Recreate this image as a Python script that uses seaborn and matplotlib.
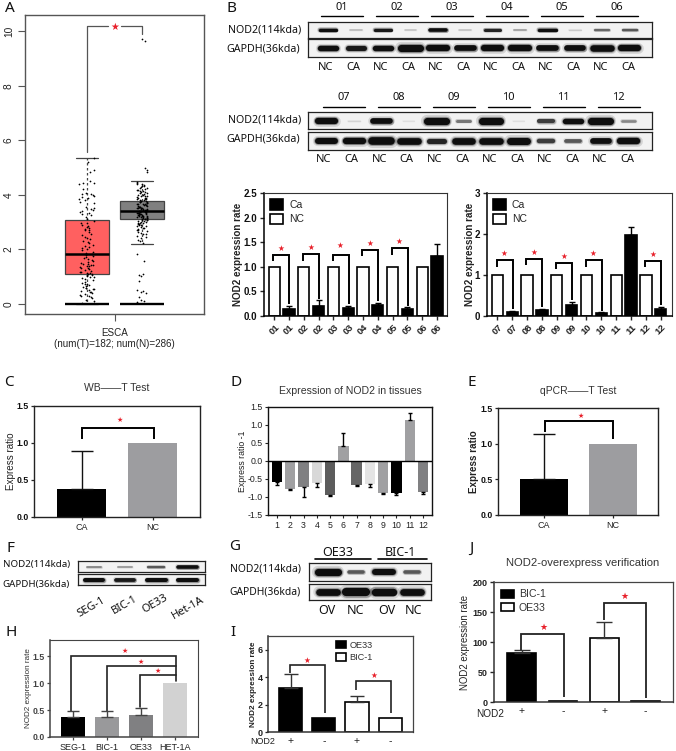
import numpy as np
import pandas as pd
import matplotlib
matplotlib.use("Agg")
import matplotlib.pyplot as plt
from matplotlib.patches import Patch
import seaborn as sns

# ====== Data ======
# A: five-number summaries and the visible points
esca_groups = ["T", "N"]
esca_t_box = [0.0, 1.1, 1.83, 3.07, 5.33]
esca_n_box = [2.2, 3.12, 3.42, 3.77, 4.5]
esca_t_points = [
    5.33, 5.2, 4.9, 4.85, 4.5, 4.45, 4.42, 4.4, 4.2, 4.06, 4.04, 4.02, 4.0, 3.97, 3.93, 3.9, 3.85, 3.82,
    3.75, 3.7, 3.55, 3.5, 3.47, 3.44, 3.4, 3.37, 3.33, 3.3, 3.26, 3.2, 3.1, 3.03, 2.98, 2.95, 2.9, 2.87,
    2.82, 2.78, 2.75, 2.72, 2.7, 2.62, 2.55, 2.52, 2.47, 2.43, 2.38, 2.3, 2.26, 2.22, 2.17, 2.13, 2.1,
    2.05, 2.0, 1.96, 1.9, 1.87, 1.83, 1.8, 1.76, 1.72, 1.68, 1.63, 1.6, 1.56, 1.53, 1.5, 1.48, 1.46,
    1.44, 1.42, 1.4, 1.38, 1.36, 1.33, 1.3, 1.27, 1.24, 1.2, 1.18, 1.16, 1.14, 1.12, 1.1, 1.09, 1.07,
    1.05, 1.03, 1.0, 0.98, 0.95, 0.9, 0.86, 0.82, 0.78, 0.74, 0.72, 0.68, 0.65, 0.62, 0.6, 0.58, 0.56,
    0.53, 0.5, 0.48, 0.45, 0.42, 0.4, 0.37, 0.33, 0.3, 0.28, 0.25, 0.2, 0.16, 0.12, 0.05, 0.03,
]
esca_n_points = [
    9.72, 9.62, 5.0, 4.9, 4.85, 4.47, 4.44, 4.41, 4.38, 4.36, 4.33, 4.31, 4.28, 4.26, 4.24, 4.21, 4.19,
    4.17, 4.15, 4.13, 4.11, 4.09, 4.07, 4.05, 4.03, 4.01, 3.99, 3.97, 3.95, 3.94, 3.92, 3.9, 3.89, 3.87,
    3.86, 3.84, 3.83, 3.81, 3.8, 3.79, 3.77, 3.76, 3.75, 3.73, 3.72, 3.71, 3.7, 3.68, 3.67, 3.66, 3.65,
    3.63, 3.62, 3.61, 3.6, 3.59, 3.57, 3.56, 3.55, 3.54, 3.53, 3.52, 3.51, 3.5, 3.49, 3.48, 3.47, 3.46,
    3.45, 3.44, 3.43, 3.42, 3.41, 3.4, 3.39, 3.38, 3.37, 3.36, 3.35, 3.34, 3.33, 3.32, 3.31, 3.3, 3.29,
    3.28, 3.27, 3.26, 3.25, 3.24, 3.23, 3.22, 3.21, 3.2, 3.19, 3.18, 3.17, 3.16, 3.15, 3.14, 3.13, 3.12,
    3.11, 3.1, 3.08, 3.07, 3.06, 3.04, 3.03, 3.01, 3.0, 2.98, 2.97, 2.95, 2.93, 2.92, 2.9, 2.88, 2.86,
    2.84, 2.82, 2.8, 2.78, 2.75, 2.72, 2.7, 2.67, 2.64, 2.6, 2.57, 2.55, 2.5, 2.46, 2.4, 2.35, 2.3, 2.24,
    1.83, 1.57, 1.08, 1.05, 1.03, 0.85, 0.5, 0.48, 0.42, 0.4, 0.27, 0.15, 0.12, 0.08,
]

# B: blot band strengths (0-1) per lane
lane_labels = ["NC", "CA"] * 6
b1_groups = ["01", "02", "03", "04", "05", "06"]
b2_groups = ["07", "08", "09", "10", "11", "12"]
b1_nod2 = [0.7, 0.12, 0.65, 0.1, 0.75, 0.1, 0.6, 0.18, 0.7, 0.08, 0.35, 0.4]
b1_gapdh = [0.7, 0.65, 0.7, 1.0, 0.85, 0.75, 0.85, 0.85, 0.75, 0.75, 0.9, 0.85]
b2_nod2 = [0.85, 0.05, 0.75, 0.03, 1.0, 0.3, 1.0, 0.03, 0.5, 0.7, 1.0, 0.25]
b2_gapdh = [0.75, 0.8, 1.0, 0.85, 0.6, 0.85, 0.85, 0.9, 0.5, 0.4, 0.7, 0.8]

# B: bars
b1_labels = ["01", "01", "02", "02", "03", "03", "04", "04", "05", "05", "06", "06"]
b1_values = [1, 0.15, 1, 0.2, 1, 0.17, 1, 0.23, 1, 0.15, 1, 1.22]
b1_tops = [1, 0.21, 1, 0.32, 1, 0.2, 1, 0.27, 1, 0.18, 1, 1.47]
b1_brackets = [1.25, 1.26, 1.25, 1.35, 1.38]
b1_legs = [0.24, 0.35, 0.24, 0.3, 0.2]
b2_labels = ["07", "07", "08", "08", "09", "09", "10", "10", "11", "11", "12", "12"]
b2_values = [1, 0.1, 1, 0.15, 1, 0.27, 1, 0.08, 1, 1.97, 1, 0.18]
b2_tops = [1, 0.12, 1, 0.18, 1, 0.35, 1, 0.1, 1, 2.16, 1, 0.23]
b2_brackets = [1.37, 1.4, 1.3, 1.37, 1.35]
b2_legs = [0.16, 0.21, 0.38, 0.13, 0.26]

# C, E
ct_labels = ["CA", "NC"]
c_values = [0.38, 1.0]
c_tops = [0.89, 1.0]
e_values = [0.51, 1.0]
e_tops = [1.13, 1.0]

# D
d_labels = [str(i) for i in range(1, 13)]
d_values = [-0.58, -0.79, -0.73, -0.61, -0.95, 0.42, -0.67, -0.65, -0.9, -0.89, 1.13, -0.85]
d_tops = [-0.66, -0.81, -1.0, -0.71, -0.96, 0.77, -0.69, -0.73, -0.92, -0.94, 1.33, -0.91]
d_colors = ["#000000", "#a0a0a2", "#808082", "#d8d8d8", "#5c5c5c", "#a0a0a2",
            "#666666", "#e4e4e4", "#a0a0a2", "#000000", "#a0a0a2", "#808082"]

# F, G blots
f_lines = ["SEG-1", "BIC-1", "OE33", "Het-1A"]
f_nod2 = [0.25, 0.2, 0.4, 0.8]
f_gapdh = [0.7, 0.65, 0.7, 0.7]
g_lanes = ["OV", "NC", "OV", "NC"]
g_nod2 = [1.0, 0.4, 0.8, 0.4]
g_gapdh = [0.8, 1.0, 0.9, 0.8]

# H
h_labels = ["SEG-1", "BIC-1", "OE33", "HET-1A"]
h_values = [0.37, 0.38, 0.40, 1.0]
h_tops = [0.48, 0.48, 0.54, 1.0]
h_colors = ["#000000", "#99999b", "#808082", "#d2d2d2"]

# I, J
nod2_signs = ["+", "-", "+", "-"]
i_values = [3.2, 1.0, 2.2, 1.0]
i_tops = [4.25, 1.0, 2.65, 1.0]
j_values = [82, 1.5, 106, 1.5]
j_tops = [87, 1.5, 133, 1.5]

# ====== Setup ======
W, H = 676, 751
sns.set_style("ticks")
plt.rcParams["font.family"] = ["Liberation Sans", "DejaVu Sans"]
fig = plt.figure(figsize=(W / 100, H / 100), dpi=100, facecolor="white")
RED = "#e8202a"


def px_axes(l, t, r, b):
    return fig.add_axes([l / W, 1 - b / H, (r - l) / W, (b - t) / H])


def spines(ax, lw=1.0, color="black", frame_lw=None, frame_color=None):
    for s in ["left", "bottom"]:
        ax.spines[s].set_linewidth(lw)
        ax.spines[s].set_color(color)
    for s in ["top", "right"]:
        ax.spines[s].set_linewidth(frame_lw if frame_lw else lw)
        ax.spines[s].set_color(frame_color if frame_color else color)


def bars(ax, values, tops, colors, width, edge=None, lw=0, ecolor="black", cap=2.0, elw=1.0):
    idx = [str(i) for i in range(len(values))]
    sns.barplot(x=idx, y=values, hue=idx, palette=dict(zip(idx, colors)), dodge=False, legend=False,
                width=width, saturation=1, errorbar=None, edgecolor=edge, linewidth=lw, ax=ax)
    for i, (v, t) in enumerate(zip(values, tops)):
        if t != v:
            low, up = (v - t, 0) if t < v else (0, t - v)
            ax.errorbar(i, v, yerr=[[low], [up]], fmt="none", ecolor=ecolor, elinewidth=elw,
                        capsize=cap, capthick=elw, zorder=4)


def bracket(ax, x0, x1, top, y0, y1, lw=1.5, color="black"):
    ax.plot([x0, x0, x1, x1], [y0, top, top, y1], color=color, lw=lw, solid_joinstyle="miter",
            solid_capstyle="butt", zorder=5)


def star(ax, x, y, size=5.5):
    ax.text(x, y, "★", color=RED, fontsize=size, ha="center", va="center", family="DejaVu Sans", zorder=6)


def blot(l, t, r, b, first, step, strengths, band_px):
    ax = px_axes(l, t, r, b)
    ax.set_facecolor("#f2f2f2")
    ax.set_xlim((l - first) / step, (r - first) / step)
    ax.set_ylim(0, 1)
    ax.set_xticks([])
    ax.set_yticks([])
    for s in ax.spines.values():
        s.set_linewidth(0.9)
        s.set_color("#222222")
    for i, s in enumerate(strengths):
        lw = (1.2 + band_px * s) / 1.39
        half = 0.2 + 0.14 * s
        for mult, a in [(1.7, 0.12), (1.3, 0.3), (1.0, 0.9)]:
            ax.plot([i - half, i + half], [0.5, 0.5], color="black", lw=lw * mult,
                    alpha=a * min(1, 0.02 + 1.4 * s), solid_capstyle="round")
    return ax


# overlay for the free text in pixel coordinates
over = fig.add_axes([0, 0, 1, 1], zorder=20)
over.set_xlim(0, W)
over.set_ylim(H, 0)
over.axis("off")


def txt(x, y, s, size=7.5, ha="center", weight="normal", family=None, rot=0, color="#111111"):
    over.text(x, y, s, fontsize=size, ha=ha, va="center", fontweight=weight, rotation=rot, color=color,
              family=family if family else ["Liberation Sans", "DejaVu Sans"])


BLOT_FONT = ["Noto Sans", "DejaVu Sans"]
for letter, x, y in [("A", 10, 8), ("B", 231, 8), ("C", 9, 382), ("D", 236, 382), ("E", 472, 382),
                     ("F", 10, 548), ("G", 235, 547), ("H", 11, 633), ("I", 233, 633), ("J", 471, 548)]:
    txt(x, y, letter, size=11, family=BLOT_FONT)

# ====== A ======
ax = px_axes(25, 15, 204, 314)
box_df = pd.DataFrame({"group": ["T"] * 5 + ["N"] * 5, "value": esca_t_box + esca_n_box})
sns.boxplot(data=box_df, x="group", y="value", hue="group", order=esca_groups,
            palette={"T": "#ff6060", "N": "#808080"}, dodge=False, legend=False, width=0.8, whis=np.inf,
            saturation=1, linecolor="#444444", linewidth=0.9, showfliers=False,
            whiskerprops={"linestyle": (0, (2, 2))}, medianprops={"color": "black", "linewidth": 1.8}, ax=ax)
np.random.seed(4)
sns.stripplot(x=["T"] * len(esca_t_points), y=esca_t_points, order=esca_groups, color="black",
              size=1.25, jitter=0.14, ax=ax)
sns.stripplot(x=["N"] * len(esca_n_points), y=esca_n_points, order=esca_groups, color="black",
              size=1.25, jitter=0.1, ax=ax)
ax.hlines([0, 0], [-0.4, 0.6], [0.4, 1.4], color="black", lw=1.7, zorder=5)
ax.set_xlim(-1.127, 2.127)
ax.set_ylim(-0.37, 10.59)
ax.set_xticks([0.5])
ax.set_xticklabels(["ESCA\n(num(T)=182; num(N)=286)"], fontsize=7.1, color="#222222", linespacing=1.15)
ax.set_yticks([0, 2, 4, 6, 8, 10])
ax.set_yticklabels(["0", "2", "4", "6", "8", "10"], rotation=90, va="center", fontsize=7.3, color="#222222")
ax.tick_params(length=5, width=0.8, color="#555555", pad=3)
ax.tick_params(axis="x", pad=5)
ax.set_xlabel("")
ax.set_ylabel("")
spines(ax, 1.0, "#555555")
ax.plot([0, 0, 0.39], [5.57, 10.17, 10.17], color="#555555", lw=0.9)
ax.plot([0.62, 1, 1], [10.17, 10.17, 9.9], color="#555555", lw=0.9)
star(ax, 0.5, 10.17, 7)

# ====== B blots ======
blot(308, 22, 652, 38, 328.3, 27.4, b1_nod2, 3.2)
blot(308, 39, 652, 57, 328.3, 27.4, b1_gapdh, 6)
blot(308, 112, 652, 129, 326.7, 27.4, b2_nod2, 6)
blot(308, 132, 652, 150, 326.7, 27.4, b2_gapdh, 6.5)
for y, names, first in [(8, b1_groups, 342), (98, b2_groups, 344)]:
    for i, name in enumerate(names):
        cx = first + i * 54.9
        txt(cx, y, name, size=8, family=BLOT_FONT)
        over.plot([cx - 21, cx + 21], [y + (8 if y == 8 else 9)] * 2, color="black", lw=1.0)
for i, name in enumerate(lane_labels):
    txt(326 + i * 27.5, 67, name, size=8, family=BLOT_FONT)
    txt(324 + i * 27.6, 159, name, size=8, family=BLOT_FONT)
for y1, y2 in [(30, 49), (120, 139)]:
    txt(301, y1, "NOD2(114kda)", size=7.7, ha="right", family=BLOT_FONT)
    txt(300, y2, "GAPDH(36kda)", size=7.7, ha="right", family=BLOT_FONT)


# ====== B bars ======
def b_panel(box, xlim, ylim, yticks, yticklabels, labels, values, tops, tops_b, legs, star_y, skip_pair, pad):
    ax = px_axes(*box)
    cols = ["white" if i % 2 == 0 else "black" for i in range(12)]
    bars(ax, values, tops, cols, 0.76, edge="black", lw=1.2, cap=2.2, elw=1.0)
    ax.set_xlim(*xlim)
    ax.set_ylim(*ylim)
    ax.set_xticks(range(12))
    ax.set_xticklabels(labels, rotation=45, ha="center", fontsize=6.8, fontweight="bold", color="#222222")
    ax.set_yticks(yticks)
    ax.set_yticklabels(yticklabels, fontsize=7, fontweight="bold", color="#111111")
    ax.tick_params(length=3, width=1, pad=2)
    ax.set_ylabel("NOD2 expression rate", fontsize=7.1, fontweight="bold", labelpad=pad, color="#222222")
    spines(ax, 1.1, "black", 0.8, "#333333")
    pairs = [p for p in range(6) if p != skip_pair]
    for n, p in enumerate(pairs):
        x0, x1 = p * 2 - 0.05, p * 2 + 1.03
        bracket(ax, x0, x1, tops_b[n], tops_b[n] - ylim[1] * 0.055, legs[n], lw=1.4)
        star(ax, p * 2 + 0.45, star_y[n], 5.5)
    ax.legend(handles=[Patch(facecolor="black", edgecolor="black", lw=1.2, label="Ca"),
                       Patch(facecolor="white", edgecolor="black", lw=1.2, label="NC")],
              loc="upper left", frameon=False, fontsize=7.5, handlelength=1.25, handleheight=1.15,
              labelspacing=0.35, handletextpad=0.55, borderaxespad=0.3, borderpad=0.3)
    return ax


b_panel((264, 193, 447, 316), (-0.69, 11.67), (0, 2.5), [0, 0.5, 1, 1.5, 2, 2.5],
        ["0.0", "0.5", "1.0", "1.5", "2.0", "2.5"], b1_labels, b1_values, b1_tops, b1_brackets, b1_legs,
        [1.37, 1.39, 1.43, 1.47, 1.52], 5, 0)
b_panel((487, 193, 672, 316), (-0.70, 11.76), (0, 3), [0, 1, 2, 3], ["0", "1", "2", "3"],
        b2_labels, b2_values, b2_tops, b2_brackets, b2_legs, [1.53, 1.55, 1.45, 1.53, 1.51], 4, 0)


# ====== C, E ======
def ct_panel(box, xlim, values, tops, top, leg0, leg1, star_y, capsize, ylab_bold, x1, pad):
    ax = px_axes(*box)
    bars(ax, values, tops, ["#000000", "#9d9da0"], 0.69, cap=capsize, elw=1.0, ecolor="#111111")
    ax.set_xlim(*xlim)
    ax.set_ylim(0, 1.5)
    ax.set_xticks([0, 1])
    ax.set_xticklabels(ct_labels, fontsize=6.5, color="#222222")
    ax.set_yticks([0, 0.5, 1, 1.5])
    ax.set_yticklabels(["0.0", "0.5", "1.0", "1.5"], fontsize=6.3, fontweight="bold", color="#111111")
    ax.tick_params(length=2.5, width=0.9, pad=1.5)
    ax.set_ylabel("Express ratio", fontsize=7.1, fontweight="bold" if ylab_bold else "normal",
                  labelpad=pad, color="#222222")
    spines(ax, 1.0, "#222222", 1.0, "#222222")
    bracket(ax, 0.01, x1, top, leg0, leg1, lw=1.4)
    star(ax, 0.53, star_y, 5)


ct_panel((34, 406, 200, 517), (-0.675, 1.67), c_values, c_tops, 1.2, 1.05, 1.05, 1.31, 8.2, False, 1.02, 0)
ct_panel((498, 408, 658, 515), (-0.667, 1.657), e_values, e_tops, 1.32, 1.16, 1.06, 1.39, 8.2, True, 1.0, 1)
txt(117, 388, "WB——T Test", size=7.5, color="#333333")
txt(578, 391, "qPCR——T Test", size=7.5, color="#333333")

# ====== D ======
ax = px_axes(268, 407, 432, 515)
bars(ax, d_values, d_tops, d_colors, 0.78, cap=1.5, elw=1.0)
ax.axhline(0, color="black", lw=1.0, zorder=5)
ax.set_xlim(-0.68, 11.68)
ax.set_ylim(-1.5, 1.5)
ax.set_xticks(range(12))
ax.set_xticklabels(d_labels, fontsize=6.3, color="#222222")
ax.set_yticks([-1.5, -1, -0.5, 0, 0.5, 1, 1.5])
ax.set_yticklabels(["-1.5", "-1.0", "-0.5", "0.0", "0.5", "1.0", "1.5"], fontsize=6.3, color="#222222")
ax.tick_params(length=2.5, width=0.8, pad=1.5)
ax.set_ylabel("Express ratio -1", fontsize=6.3, labelpad=0, color="#222222")
spines(ax, 1.0, "#111111")
txt(350, 391, "Expression of NOD2 in tissues", size=7.6, color="#333333")

# ====== F ======
blot(78, 561, 205, 572, 94, 31.2, f_nod2, 3)
blot(78, 574, 205, 585, 94, 31.2, f_gapdh, 4)
txt(70, 564, "NOD2(114kda)", size=7, ha="right", family=BLOT_FONT)
txt(70, 585, "GAPDH(36kda)", size=7, ha="right", family=BLOT_FONT)
for name, x, y in zip(f_lines, [91, 125, 155, 188], [607, 605, 604, 608]):
    txt(x, y, name, size=8, rot=30, family=BLOT_FONT)

# ====== G ======
blot(309, 563, 431, 581, 328, 28, g_nod2, 6)
blot(309, 584, 431, 600, 328, 28, g_gapdh, 7)
txt(301, 569, "NOD2(114kda)", size=7.4, ha="right", family=BLOT_FONT)
txt(301, 592, "GAPDH(36kda)", size=7.4, ha="right", family=BLOT_FONT)
txt(338, 553, "OE33", size=9, family=BLOT_FONT)
txt(400, 553, "BIC-1", size=9, family=BLOT_FONT)
over.plot([315, 371], [559, 559], color="black", lw=1.2)
over.plot([378, 427], [559, 559], color="black", lw=1.2)
for name, x in zip(g_lanes, [327, 356, 387, 413]):
    txt(x, 611, name, size=9, family=BLOT_FONT)

# ====== H ======
ax = px_axes(50, 640, 198, 737)
bars(ax, h_values, h_tops, h_colors, 0.71, cap=4.5, elw=1.0, ecolor="#444444")
ax.set_xlim(-0.688, 3.68)
ax.set_ylim(0, 1.8)
ax.set_xticks(range(4))
ax.set_xticklabels(h_labels, fontsize=6.5, color="#222222")
ax.set_yticks([0, 0.5, 1, 1.5])
ax.set_yticklabels(["0.0", "0.5", "1.0", "1.5"], fontsize=6.3, fontweight="bold", color="#444444")
ax.tick_params(length=2.5, width=0.9, color="#444444", pad=1.5)
ax.set_ylabel("NOD2 expression rate", fontsize=5.9, labelpad=0, color="#333333")
spines(ax, 1.1, "#444444", 0.8, "#444444")
ax.plot([-0.06, -0.06, 3.03, 3.03], [0.48, 1.5, 1.5, 1.03], color="#222222", lw=1.2, solid_joinstyle="miter")
ax.plot([1.0, 1.0, 3.03], [0.49, 1.31, 1.31], color="#222222", lw=1.2, solid_joinstyle="miter")
ax.plot([1.98, 1.98, 3.03], [0.55, 1.15, 1.15], color="#222222", lw=1.2, solid_joinstyle="miter")
star(ax, 1.52, 1.6, 5)
star(ax, 1.98, 1.4, 5)
star(ax, 2.49, 1.23, 5)


# ====== I, J ======
def sign_panel(box, xlim, ylim, values, tops, width, yticks, cap, lw):
    ax = px_axes(*box)
    bars(ax, values, tops, ["black", "black", "white", "white"], width, edge="black", lw=lw, cap=cap, elw=1.0,
         ecolor="#333333")
    ax.set_xlim(*xlim)
    ax.set_ylim(*ylim)
    ax.set_xticks(range(4))
    ax.set_xticklabels(nod2_signs, fontsize=7.5, color="#222222")
    ax.set_yticks(yticks)
    ax.set_yticklabels([str(v) for v in yticks], fontweight="bold", fontsize=6.5, color="#222222")
    spines(ax, 1.1, "#333333", 0.9, "#444444")
    return ax


ax = sign_panel((268, 636, 413, 732), (-0.685, 3.69), (0, 7), i_values, i_tops, 0.7, [0, 2, 4, 6], 5, 1.2)
ax.tick_params(axis="x", length=0, pad=3)
ax.tick_params(axis="y", length=2.5, width=0.9, pad=1.5)
ax.set_ylabel("NOD2 expression rate", fontsize=5.9, fontweight="bold", labelpad=0, color="#222222")
bracket(ax, -0.02, 1.02, 4.85, 4.3, 1.35, lw=1.2, color="#222222")
bracket(ax, 1.98, 3.02, 3.73, 3.05, 1.35, lw=1.2, color="#222222")
star(ax, 0.5, 5.2, 5.5)
star(ax, 2.5, 4.15, 5.5)
ax.legend(handles=[Patch(facecolor="black", edgecolor="black", lw=1.2, label="OE33"),
                   Patch(facecolor="white", edgecolor="black", lw=1.2, label="BIC-1")],
          loc="upper left", bbox_to_anchor=(0.44, 1.0), frameon=False, fontsize=6.6, handlelength=1.0,
          handleheight=0.9, labelspacing=0.4, handletextpad=0.4, borderaxespad=0.1, labelcolor="#333333")
txt(263, 741, "NOD2", size=6.5, color="#222222")

ax = sign_panel((494, 582, 673, 702), (-0.67, 3.66), (0, 200), j_values, j_tops, 0.69, [0, 50, 100, 150, 200], 6, 1.2)
ax.tick_params(axis="x", length=0, pad=3)
ax.tick_params(axis="y", length=3, width=1, pad=1.5)
ax.set_ylabel("NOD2 expression rate", fontsize=6.9, labelpad=2, color="#222222")
bracket(ax, -0.02, 1.02, 114, 87, 8, lw=1.3, color="#222222")
bracket(ax, 1.98, 3.0, 165, 137, 7, lw=1.3, color="#222222")
star(ax, 0.53, 124, 6.5)
star(ax, 2.49, 176, 6.5)
ax.legend(handles=[Patch(facecolor="black", edgecolor="black", lw=1.2, label="BIC-1"),
                   Patch(facecolor="white", edgecolor="black", lw=1.2, label="OE33")],
          loc="upper left", frameon=False, fontsize=7.6, handlelength=1.15, handleheight=0.85,
          labelspacing=0.3, handletextpad=0.5, borderaxespad=0.3, labelcolor="#333333")
txt(490, 714, "NOD2", size=7.2, color="#222222")
txt(583, 563, "NOD2-overexpress verification", size=8.1, color="#333333")

plt.savefig("out.png", dpi=100)
